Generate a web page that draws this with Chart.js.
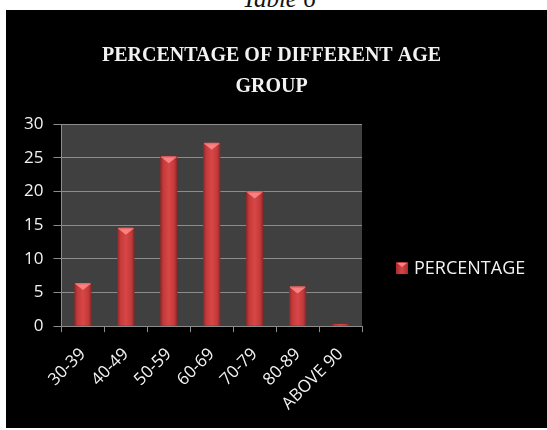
<!DOCTYPE html>
<html>
<head>
<meta charset="utf-8">
<script src="https://cdn.jsdelivr.net/npm/chart.js@4.4.1/dist/chart.umd.min.js"></script>
<style>
  html, body { margin: 0; padding: 0; background: #fff; width: 547px; height: 430px; overflow: hidden; }
  #caption {
    position: absolute; left: 0; top: -15px; width: 558px; text-align: center;
    font: italic 25px "Liberation Serif", "DejaVu Serif", serif; color: #111; line-height: 28px;
  }
  #frame { position: absolute; left: 6px; top: 10px; width: 541px; height: 418px; background: #000; }
  #frame canvas { display: block; }
</style>
</head>
<body>
<div id="caption">Table 6</div>
<div id="frame"><canvas id="chart" width="541" height="418"></canvas></div>
<script>
// Age bands and the share of respondents in each
const ageGroups = ['30-39', '40-49', '50-59', '60-69', '70-79', '80-89', 'ABOVE 90'];
const percentages = [6.4, 14.6, 25.2, 27.2, 20.0, 5.9, 0.3];
const seriesName = 'PERCENTAGE';
const titleLines = ['PERCENTAGE OF DIFFERENT AGE', 'GROUP'];
const yMin = 0, yMax = 30, yStep = 5;

const BAR_FRACTION = 0.4;
const GRID = '#8c8c8c';
const TEXT = '#f2f2f2';
const SANS = '"Open Sans", sans-serif';

// Dark grey plot panel behind the grid
const plotPanel = {
  id: 'plotPanel',
  beforeDraw(chart) {
    const { ctx, chartArea: a } = chart;
    ctx.save();
    ctx.fillStyle = '#404040';
    ctx.fillRect(a.left, a.top, a.right - a.left, a.bottom - a.top);
    ctx.restore();
  }
};

// Bevelled cap on each column: a light band with a downward chevron
const barCaps = {
  id: 'barCaps',
  afterDatasetsDraw(chart) {
    const { ctx } = chart;
    chart.getDatasetMeta(0).data.forEach(el => {
      const h = el.base - el.y;
      if (h < 4) return;
      const l = el.x - el.width / 2, r = el.x + el.width / 2;
      const d = Math.min(6, h / 2);
      ctx.save();
      ctx.fillStyle = 'rgba(255,140,140,0.85)';
      ctx.beginPath();
      ctx.moveTo(l + 1, el.y + 1);
      ctx.lineTo(r - 1, el.y + 1);
      ctx.lineTo(el.x, el.y + d + 1);
      ctx.closePath();
      ctx.fill();
      ctx.fillStyle = 'rgba(240,110,110,0.9)';
      ctx.fillRect(l + 1, el.y, el.width - 2, 1.5);
      ctx.restore();
    });
  }
};

// Series key, drawn in the space kept free to the right of the plot
const seriesKey = {
  id: 'seriesKey',
  afterDraw(chart) {
    const { ctx, chartArea: a } = chart;
    const ds = chart.data.datasets[0];
    const bx = a.right + 34, cy = (a.top + a.bottom) / 2 + 43, s = 12;
    ctx.save();
    const g = ctx.createLinearGradient(bx, 0, bx + s, 0);
    g.addColorStop(0, '#a42c2c'); g.addColorStop(0.5, '#d94646'); g.addColorStop(1, '#a42c2c');
    ctx.fillStyle = g;
    ctx.fillRect(bx, cy - s / 2, s, s);
    ctx.fillStyle = 'rgba(255,140,140,0.85)';
    ctx.beginPath();
    ctx.moveTo(bx + 1, cy - s / 2 + 1);
    ctx.lineTo(bx + s - 1, cy - s / 2 + 1);
    ctx.lineTo(bx + s / 2, cy - s / 2 + 5);
    ctx.closePath();
    ctx.fill();
    ctx.fillStyle = TEXT;
    ctx.font = '18px ' + SANS;
    ctx.textBaseline = 'middle';
    ctx.textAlign = 'left';
    ctx.fillText(ds.label, bx + s + 6, cy + 1);
    ctx.restore();
  }
};

function barFill(ctx) {
  const chart = ctx.chart;
  const xs = chart.scales && chart.scales.x;
  if (ctx.type !== 'data' || !xs || !xs.width) return '#c83c3c';
  const cx = xs.getPixelForValue(ctx.dataIndex);
  const w = (xs.width / ageGroups.length) * BAR_FRACTION;
  const g = chart.ctx.createLinearGradient(cx - w / 2, 0, cx + w / 2, 0);
  g.addColorStop(0, '#8e2626');
  g.addColorStop(0.18, '#c23a3a');
  g.addColorStop(0.5, '#d94646');
  g.addColorStop(0.82, '#c23a3a');
  g.addColorStop(1, '#8a2424');
  return g;
}

new Chart(document.getElementById('chart'), {
  type: 'bar',
  data: {
    labels: ageGroups,
    datasets: [{
      label: seriesName,
      data: percentages,
      backgroundColor: barFill,
      borderWidth: 0,
      barPercentage: BAR_FRACTION,
      categoryPercentage: 1.0
    }]
  },
  options: {
    responsive: false,
    animation: false,
    layout: { padding: { left: 8, right: 18, top: 0, bottom: 2 } },
    plugins: {
      title: {
        display: true,
        text: titleLines,
        color: TEXT,
        font: { family: '"Liberation Serif", "Times New Roman", serif', size: 20, weight: 'bold', lineHeight: 1.55 },
        padding: { top: 30, bottom: 22 }
      },
      legend: { display: false },
      tooltip: { enabled: false }
    },
    scales: {
      x: {
        grid: { drawOnChartArea: false, drawTicks: true, tickLength: 6, color: GRID, offset: true },
        border: { color: GRID, width: 1 },
        ticks: {
          color: TEXT,
          font: { family: SANS, size: 17 },
          minRotation: 45, maxRotation: 45,
          padding: 12,
          autoSkip: false
        }
      },
      y: {
        min: yMin, max: yMax,
        grid: { color: GRID, tickLength: 8 },
        border: { color: GRID, width: 1 },
        ticks: {
          stepSize: yStep,
          color: TEXT,
          font: { family: SANS, size: 17 },
          padding: 10
        }
      },
      // empty right-hand band that holds the series key
      keyBand: {
        type: 'linear',
        position: 'right',
        display: true,
        grid: { display: false },
        border: { display: false },
        ticks: { display: false },
        afterFit(scale) { scale.width = 167; }
      }
    }
  },
  plugins: [plotPanel, barCaps, seriesKey]
});
</script>
</body>
</html>
